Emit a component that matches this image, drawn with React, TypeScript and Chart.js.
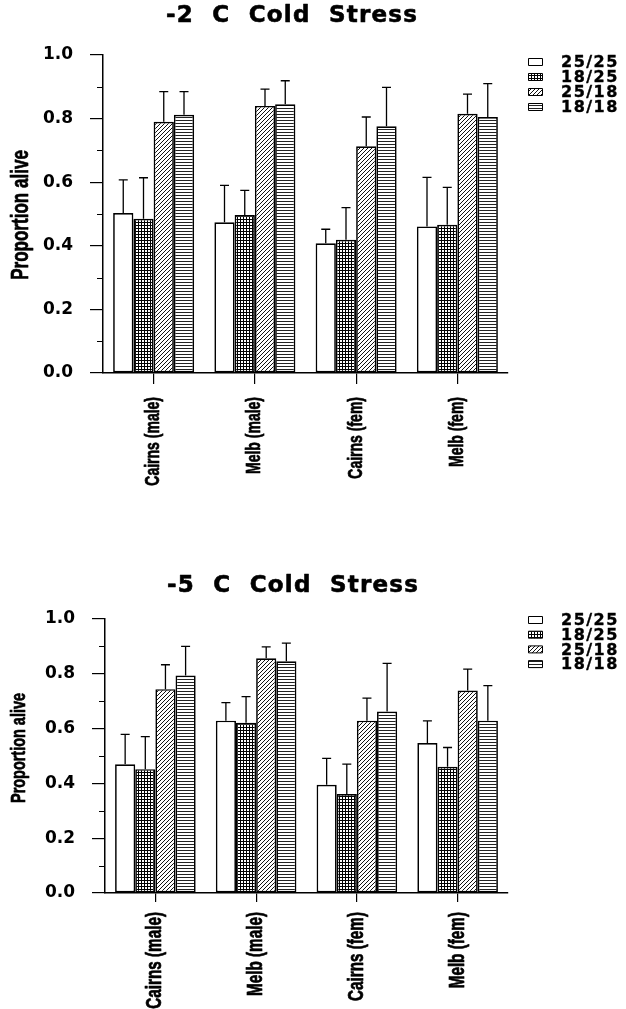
import React, { useEffect, useRef } from 'react';
import { Chart, registerables } from 'chart.js';

Chart.register(...registerables);

// ---------- data ----------
const categories = ['Cairns (male)', 'Melb (male)', 'Cairns (fem)', 'Melb (fem)'];
const seriesLabels = ['25/25', '18/25', '25/18', '18/18'];
const yTickValues = [0, 0.2, 0.4, 0.6, 0.8, 1.0];
const yMinorTickValues = [0.1, 0.3, 0.5, 0.7, 0.9];
const yAxisTitle = 'Proportion alive';

// -2 C cold stress: mean proportion alive
const m2Mean2525 = [0.503, 0.474, 0.408, 0.461];
const m2Mean1825 = [0.485, 0.497, 0.419, 0.466];
const m2Mean2518 = [0.790, 0.840, 0.713, 0.815];
const m2Mean1818 = [0.812, 0.845, 0.776, 0.805];
// -2 C cold stress: upper error bar length
const m2Err2525 = [0.104, 0.116, 0.044, 0.154];
const m2Err1825 = [0.129, 0.077, 0.101, 0.118];
const m2Err2518 = [0.095, 0.053, 0.092, 0.062];
const m2Err1818 = [0.073, 0.074, 0.122, 0.105];

// -5 C cold stress: mean proportion alive
const m5Mean2525 = [0.470, 0.629, 0.395, 0.547];
const m5Mean1825 = [0.452, 0.621, 0.361, 0.461];
const m5Mean2518 = [0.744, 0.857, 0.629, 0.739];
const m5Mean1818 = [0.794, 0.846, 0.662, 0.629];
// -5 C cold stress: upper error bar length
const m5Err2525 = [0.109, 0.066, 0.096, 0.081];
const m5Err1825 = [0.119, 0.096, 0.109, 0.070];
const m5Err2518 = [0.089, 0.041, 0.082, 0.078];
const m5Err1818 = [0.106, 0.066, 0.176, 0.128];

const ARIAL = "'Liberation Sans', Arial, sans-serif";
const WIDE = "'DejaVu Sans', 'Liberation Sans', sans-serif";

type Kind = 'empty' | 'grid' | 'diag' | 'horiz';
const patternKinds: Kind[] = ['empty', 'grid', 'diag', 'horiz'];

function makePattern(ctx: CanvasRenderingContext2D, kind: Kind): CanvasPattern | string {
  if (kind === 'empty') return '#ffffff';
  const size = kind === 'diag' ? 4 : 3;
  const c = document.createElement('canvas');
  c.width = size;
  c.height = size;
  const g = c.getContext('2d') as CanvasRenderingContext2D;
  g.fillStyle = '#ffffff';
  g.fillRect(0, 0, size, size);
  g.fillStyle = '#000000';
  if (kind === 'grid') {
    g.fillRect(0, 0, size, 1);
    g.fillRect(0, 0, 1, size);
  } else if (kind === 'horiz') {
    g.fillStyle = '#222222';
    g.fillRect(0, 0, size, 1);
  } else if (kind === 'diag') {
    g.fillStyle = '#111111';
    for (let i = 0; i < size; i++) g.fillRect(size - 1 - i, i, 1, 1);
  }
  return ctx.createPattern(c, 'repeat') as CanvasPattern;
}

interface PanelCfg {
  title: string;
  means: number[][];
  errs: number[][];
  width: number;
  height: number;
  areaLeft: number;
  areaTop: number;
  areaBottom: number;
  areaRight: number;
  titleCenterX: number;
  titleY: number;
  legendTop: number;
  legendStep: number;
  xFont: number;
  xSqueeze: number;
  xTickLen: number;
  xPad: number;
  yTitleFont: number;
  ySqueeze: number;
  yTitleX: number;
  yTitleY: number;
}

function boldText(ctx: CanvasRenderingContext2D, text: string, x: number, y: number, w: number) {
  ctx.fillText(text, x, y);
  ctx.lineWidth = w;
  ctx.strokeStyle = '#000';
  ctx.lineJoin = 'round';
  ctx.strokeText(text, x, y);
}

const errorBarPlugin = {
  id: 'errorBars',
  afterDatasetsDraw(chart: any) {
    const ctx = chart.ctx as CanvasRenderingContext2D;
    const ys = chart.scales.y;
    ctx.save();
    ctx.strokeStyle = '#000';
    ctx.lineWidth = 1.3;
    chart.data.datasets.forEach((ds: any, i: number) => {
      const meta = chart.getDatasetMeta(i);
      meta.data.forEach((bar: any, j: number) => {
        const v = ds.data[j];
        const e = ds.errorPlus[j];
        const x = bar.x;
        const y0 = ys.getPixelForValue(v);
        const y1 = ys.getPixelForValue(v + e);
        ctx.beginPath();
        ctx.moveTo(x, y0);
        ctx.lineTo(x, y1);
        ctx.moveTo(x - 4.5, y1);
        ctx.lineTo(x + 4.5, y1);
        ctx.stroke();
      });
    });
    ctx.restore();
  },
};

const decorPlugin = {
  id: 'decor',
  afterDraw(chart: any, _args: any, opts: any) {
    const ctx = chart.ctx as CanvasRenderingContext2D;
    const ys = chart.scales.y;
    const xs = chart.scales.x;
    const area = chart.chartArea;
    ctx.save();
    // minor ticks
    ctx.strokeStyle = '#000';
    ctx.lineWidth = 1;
    yMinorTickValues.forEach((v) => {
      const y = Math.round(ys.getPixelForValue(v)) + 0.5;
      ctx.beginPath();
      ctx.moveTo(area.left - 6, y);
      ctx.lineTo(area.left, y);
      ctx.stroke();
    });

    ctx.fillStyle = '#000';
    // x category labels (condensed, rotated)
    ctx.font = `bold ${opts.xFont}px ${ARIAL}`;
    ctx.textAlign = 'right';
    ctx.textBaseline = 'middle';
    const labels = chart.data.labels as string[];
    labels.forEach((lab, i) => {
      const x = xs.getPixelForTick(i);
      const y = area.bottom + opts.xTickLen + opts.xPad;
      ctx.save();
      ctx.translate(x, y);
      ctx.rotate(-Math.PI / 2);
      ctx.scale(opts.xSqueeze, 1);
      boldText(ctx, lab, 0, 0, 0.7);
      ctx.restore();
    });

    // y axis title (condensed, rotated)
    ctx.save();
    ctx.font = `bold ${opts.yTitleFont}px ${ARIAL}`;
    ctx.textAlign = 'center';
    ctx.textBaseline = 'middle';
    ctx.translate(opts.yTitleX, opts.yTitleY);
    ctx.rotate(-Math.PI / 2);
    ctx.scale(opts.ySqueeze, 1);
    boldText(ctx, yAxisTitle, 0, 0, 0.7);
    ctx.restore();

    // title
    ctx.font = `bold 23px ${WIDE}`;
    (ctx as any).letterSpacing = '1.2px';
    ctx.textAlign = 'center';
    ctx.textBaseline = 'middle';
    boldText(ctx, opts.title, opts.titleCenterX, opts.titleY, 0.6);

    // legend
    ctx.font = `bold 16px ${WIDE}`;
    (ctx as any).letterSpacing = '1.5px';
    ctx.textAlign = 'left';
    chart.data.datasets.forEach((ds: any, i: number) => {
      const cy = opts.legendTop + i * opts.legendStep;
      const bx = area.right + 20.5;
      ctx.fillStyle = ds.backgroundColor;
      ctx.fillRect(bx, cy - 3.5, 14, 7);
      ctx.strokeStyle = '#000';
      ctx.lineWidth = 1;
      ctx.strokeRect(bx, cy - 3.5, 14, 7);
      ctx.fillStyle = '#000';
      boldText(ctx, ds.label, area.right + 53, cy + 1, 0.4);
    });
    (ctx as any).letterSpacing = '0px';
    ctx.restore();
  },
};

function Panel({ cfg }: { cfg: PanelCfg }) {
  const ref = useRef<HTMLCanvasElement | null>(null);
  useEffect(() => {
    const canvas = ref.current;
    if (!canvas) return;
    const ctx = canvas.getContext('2d') as CanvasRenderingContext2D;
    const datasets = seriesLabels.map((label, i) => ({
      label,
      data: cfg.means[i],
      errorPlus: cfg.errs[i],
      backgroundColor: makePattern(ctx, patternKinds[i]),
      borderColor: '#000',
      borderWidth: 1.7,
      borderSkipped: false,
      barPercentage: 1.0,
      categoryPercentage: 0.8,
    }));
    const chart = new Chart(canvas, {
      type: 'bar',
      data: { labels: categories, datasets: datasets as any },
      plugins: [errorBarPlugin, decorPlugin],
      options: {
        animation: false,
        responsive: false,
        events: [],
        layout: {
          padding: { top: cfg.areaTop, right: cfg.width - cfg.areaRight, left: 0, bottom: 0 },
        },
        scales: {
          x: {
            type: 'category',
            offset: true,
            grid: {
              offset: false,
              drawOnChartArea: false,
              drawTicks: true,
              tickLength: cfg.xTickLen,
              color: '#000',
              lineWidth: 1.2,
            },
            border: { display: true, color: '#000', width: 1.5 },
            ticks: { display: false, autoSkip: false },
            afterFit: (s: any) => {
              s.height = cfg.height - cfg.areaBottom;
            },
          } as any,
          y: {
            min: 0,
            max: 1,
            afterBuildTicks: (s: any) => {
              s.ticks = yTickValues.map((v) => ({ value: v }));
            },
            grid: {
              drawOnChartArea: false,
              drawTicks: true,
              tickLength: 13,
              color: '#000',
              lineWidth: 1.2,
            },
            border: { display: true, color: '#000', width: 1.5 },
            ticks: {
              padding: 17,
              color: '#000',
              font: { family: WIDE, weight: 'bold', size: 17 },
              callback: (v: any) => Number(v).toFixed(1),
            },
            title: { display: false },
            afterFit: (s: any) => {
              s.width = cfg.areaLeft;
            },
          } as any,
        },
        plugins: {
          legend: { display: false },
          tooltip: { enabled: false },
          title: { display: false },
          decor: {
            title: cfg.title,
            titleCenterX: cfg.titleCenterX,
            titleY: cfg.titleY,
            legendTop: cfg.legendTop,
            legendStep: cfg.legendStep,
            xFont: cfg.xFont,
            xSqueeze: cfg.xSqueeze,
            xTickLen: cfg.xTickLen,
            xPad: cfg.xPad,
            yTitleFont: cfg.yTitleFont,
            ySqueeze: cfg.ySqueeze,
            yTitleX: cfg.yTitleX,
            yTitleY: cfg.yTitleY,
          },
        } as any,
      },
    });
    return () => chart.destroy();
  }, [cfg]);
  return (
    <canvas
      ref={ref}
      width={cfg.width}
      height={cfg.height}
      style={{ display: 'block', width: cfg.width, height: cfg.height }}
    />
  );
}

const topCfg: PanelCfg = {
  title: '-2  C  Cold  Stress',
  means: [m2Mean2525, m2Mean1825, m2Mean2518, m2Mean1818],
  errs: [m2Err2525, m2Err1825, m2Err2518, m2Err1818],
  width: 626,
  height: 505,
  areaLeft: 103,
  areaTop: 55,
  areaBottom: 373,
  areaRight: 508,
  titleCenterX: 292,
  titleY: 16,
  legendTop: 62,
  legendStep: 15,
  xFont: 20,
  xSqueeze: 0.7,
  xTickLen: 11,
  xPad: 13,
  yTitleFont: 24,
  ySqueeze: 0.71,
  yTitleX: 21,
  yTitleY: 215,
};

const bottomCfg: PanelCfg = {
  title: '-5  C  Cold  Stress',
  means: [m5Mean2525, m5Mean1825, m5Mean2518, m5Mean1818],
  errs: [m5Err2525, m5Err1825, m5Err2518, m5Err1818],
  width: 626,
  height: 504,
  areaLeft: 105,
  areaTop: 114,
  areaBottom: 388,
  areaRight: 508,
  titleCenterX: 293,
  titleY: 81,
  legendTop: 115,
  legendStep: 14.7,
  xFont: 21.5,
  xSqueeze: 0.71,
  xTickLen: 9,
  xPad: 10,
  yTitleFont: 20.5,
  ySqueeze: 0.705,
  yTitleX: 19,
  yTitleY: 243,
};

export default function App() {
  return (
    <div style={{ position: 'absolute', left: 0, top: 0, width: 626, height: 1009, background: '#fff' }}>
      <Panel cfg={topCfg} />
      <Panel cfg={bottomCfg} />
    </div>
  );
}
